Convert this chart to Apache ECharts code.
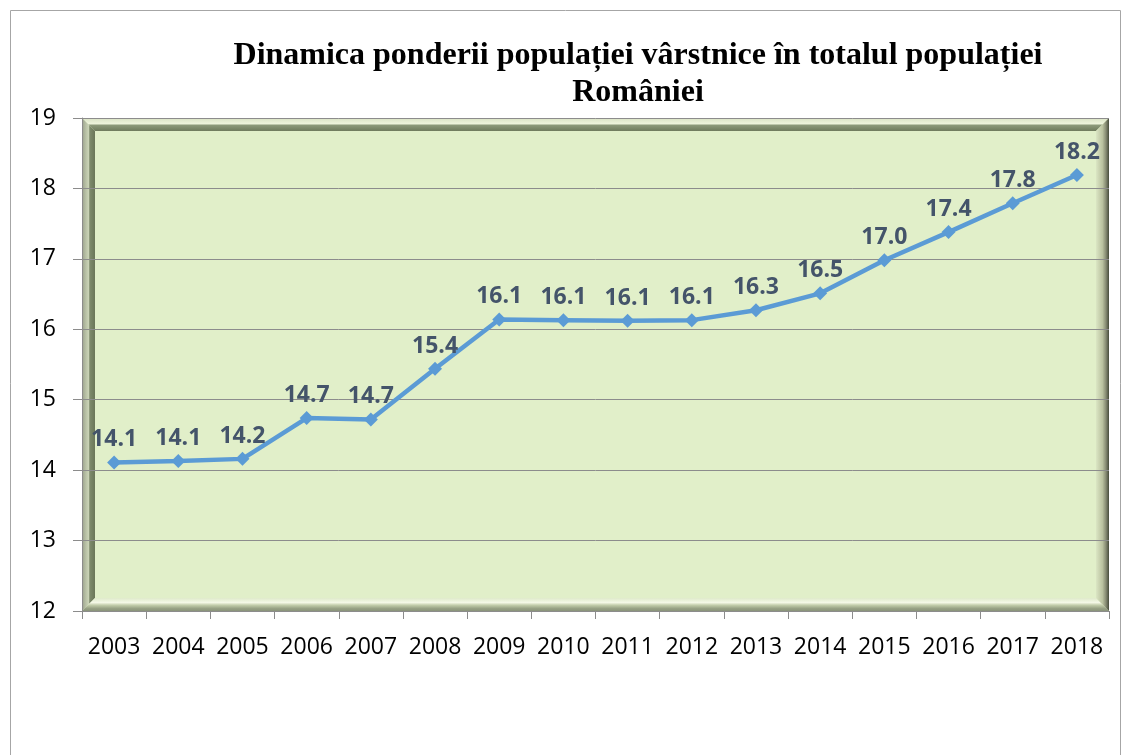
<!DOCTYPE html>
<html>
<head>
<meta charset="utf-8">
<script src="https://cdn.jsdelivr.net/npm/echarts@6/dist/echarts.min.js"></script>
<style>
  html, body { margin: 0; padding: 0; background: #fff; }
  #chart { width: 1126px; height: 755px; }
</style>
</head>
<body>
<div id="chart"></div>
<script>
// date
const years = ['2003', '2004', '2005', '2006', '2007', '2008', '2009', '2010',
  '2011', '2012', '2013', '2014', '2015', '2016', '2017', '2018'];
const shareElderly = [14.11, 14.13, 14.16, 14.74, 14.72, 15.44, 16.14, 16.13,
  16.12, 16.13, 16.27, 16.51, 16.98, 17.38, 17.79, 18.19];
const yMin = 12;
const yMax = 19;
const yStep = 1;
const titleText = 'Dinamica ponderii populației vârstnice în totalul populației\nRomâniei';

// zona graficului (px)
const L = 82, R = 1109, T = 118, B = 611;
const W2 = 13; // latimea ramei

function band(points, stops, x2, y2) {
  return {
    type: 'polygon',
    silent: true,
    z: -10,
    shape: { points: points },
    style: {
      fill: new echarts.graphic.LinearGradient(0, 0, x2, y2, stops)
    }
  };
}

const frame = [
  // chenar exterior
  {
    type: 'rect', silent: true, z: -20,
    shape: { x: 10.5, y: 10.5, width: 1110, height: 800 },
    style: { fill: '#fff', stroke: '#a6a6a6', lineWidth: 1 }
  },
  // fundal zona grafic
  {
    type: 'rect', silent: true, z: -12,
    shape: { x: L, y: T, width: R - L, height: B - T },
    style: { fill: '#e1efc9' }
  },
  // sus
  band([[L, T], [R, T], [R - W2, T + W2], [L + W2, T + W2]], [
    { offset: 0, color: '#d9e2c4' },
    { offset: 0.45, color: '#eef4dc' },
    { offset: 0.55, color: '#8d9a7a' },
    { offset: 1, color: '#6f7b5d' }
  ], 0, 1),
  // stanga
  band([[L, T], [L + W2, T + W2], [L + W2, B - W2], [L, B]], [
    { offset: 0, color: '#9aa08c' },
    { offset: 0.3, color: '#b9c2a6' },
    { offset: 0.5, color: '#c9d2b6' },
    { offset: 0.6, color: '#7e8b6c' },
    { offset: 1, color: '#6a7658' }
  ], 1, 0),
  // jos
  band([[L, B], [L + W2, B - W2], [R - W2, B - W2], [R, B]], [
    { offset: 0, color: '#dfeacb' },
    { offset: 0.35, color: '#f4f8e6' },
    { offset: 0.55, color: '#c2cdaa' },
    { offset: 0.8, color: '#98a285' },
    { offset: 1, color: '#8a937a' }
  ], 0, 1),
  // dreapta
  band([[R, T], [R, B], [R - W2, B - W2], [R - W2, T + W2]], [
    { offset: 0, color: '#dbe6c4' },
    { offset: 0.5, color: '#b9c19f' },
    { offset: 0.75, color: '#8a8f76' },
    { offset: 1, color: '#474c3c' }
  ], 1, 0)
];

const chart = echarts.init(document.getElementById('chart'), null, { renderer: 'canvas' });

chart.setOption({
  animation: false,
  backgroundColor: '#fff',
  title: {
    text: titleText,
    left: 633,
    top: 32,
    textAlign: 'center',
    textStyle: {
      fontFamily: 'Liberation Serif',
      fontWeight: 'bold',
      fontSize: 32,
      lineHeight: 37,
      color: '#000'
    }
  },
  graphic: frame,
  grid: {
    left: L,
    right: 1126 - R,
    top: T,
    bottom: 755 - B,
    containLabel: false
  },
  xAxis: {
    type: 'category',
    data: years,
    boundaryGap: true,
    axisLine: { lineStyle: { color: '#8c8c8c', width: 1 } },
    axisTick: { show: true, length: 8, interval: 0, lineStyle: { color: '#8c8c8c' } },
    axisLabel: {
      interval: 0,
      margin: 25,
      fontFamily: 'Open Sans',
      fontSize: 23,
      color: '#000'
    },
    splitLine: { show: false }
  },
  yAxis: {
    type: 'value',
    min: yMin,
    max: yMax,
    interval: yStep,
    axisLine: { show: true, lineStyle: { color: '#8c8c8c', width: 1 } },
    axisTick: { show: true, length: 9, lineStyle: { color: '#8c8c8c' } },
    axisLabel: {
      margin: 26,
      fontFamily: 'Open Sans',
      fontSize: 23,
      color: '#000'
    },
    splitLine: { show: true, lineStyle: { color: '#8c8c8c', width: 1 } }
  },
  series: [{
    type: 'line',
    data: shareElderly,
    symbol: 'diamond',
    symbolSize: 14,
    lineStyle: { color: '#5b9bd5', width: 4.5 },
    itemStyle: { color: '#5b9bd5' },
    label: {
      show: true,
      position: 'top',
      distance: 4,
      formatter: p => p.value.toFixed(1),
      fontFamily: 'Open Sans',
      fontWeight: 'bold',
      fontSize: 23,
      color: '#44546a'
    }
  }]
});

window.addEventListener('resize', () => chart.resize());
</script>
</body>
</html>
